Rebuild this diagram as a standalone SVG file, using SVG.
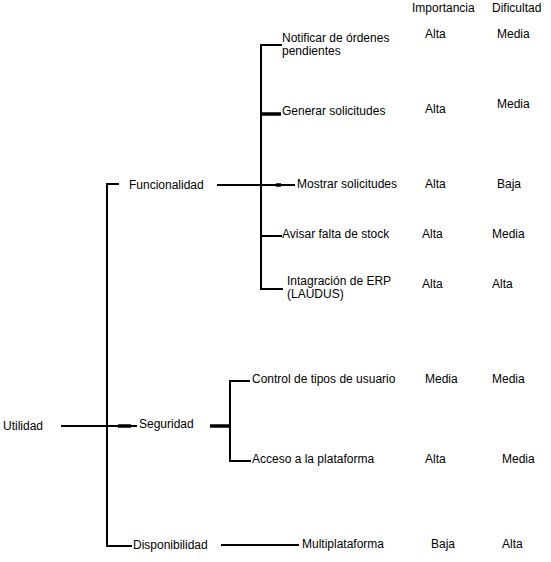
<svg xmlns="http://www.w3.org/2000/svg" width="551" height="562" viewBox="0 0 551 562">
<style>
text{font-family:"Liberation Sans",Arial,sans-serif;font-size:12px;fill:#000}
.c{stroke:#000;stroke-width:2;fill:none}
.t{stroke:#000;stroke-width:3.5;fill:none}
</style>
<rect width="551" height="562" fill="#fff"/>
<g id="connectors">
<path class="c" d="M61 426H137"/>
<path class="t" d="M118 426H131"/>
<path class="c" d="M119 184H107V546H132"/>
<path class="c" d="M217 185H295"/>
<path class="t" d="M276 185H281"/>
<path class="c" d="M282 45H261V289H283"/>
<path class="c" d="M261 236H282"/>
<path class="t" d="M261 114H281"/>
<path class="t" d="M210 426H230"/>
<path class="c" d="M250 381H230V461H251"/>
<path class="c" d="M221 545H299"/>
</g>
<g id="headers">
<text x="412" y="12">Importancia</text>
<text x="492" y="12">Dificultad</text>
</g>
<g id="utilidad"><text x="3" y="430">Utilidad</text></g>
<g id="funcionalidad"><text x="129" y="189">Funcionalidad</text></g>
<g id="seguridad"><text x="139" y="428">Seguridad</text></g>
<g id="disponibilidad"><text x="133" y="549">Disponibilidad</text></g>
<g id="notificar"><text x="282" y="42">Notificar de órdenes</text><text x="282" y="55">pendientes</text><text x="425" y="38">Alta</text><text x="497" y="38">Media</text></g>
<g id="generar"><text x="282" y="115">Generar solicitudes</text><text x="425" y="113">Alta</text><text x="497" y="108">Media</text></g>
<g id="mostrar"><text x="297" y="188">Mostrar solicitudes</text><text x="425" y="188">Alta</text><text x="497" y="188">Baja</text></g>
<g id="avisar"><text x="282" y="238">Avisar falta de stock</text><text x="422" y="238">Alta</text><text x="492" y="238">Media</text></g>
<g id="integracion"><text x="287" y="285">Intagración de ERP</text><text x="287" y="298">(LAUDUS)</text><text x="422" y="288">Alta</text><text x="492" y="288">Alta</text></g>
<g id="control"><text x="252" y="383">Control de tipos de usuario</text><text x="425" y="383">Media</text><text x="492" y="383">Media</text></g>
<g id="acceso"><text x="252" y="463">Acceso a la plataforma</text><text x="425" y="463">Alta</text><text x="502" y="463">Media</text></g>
<g id="multiplataforma"><text x="302" y="548">Multiplataforma</text><text x="431" y="548">Baja</text><text x="502" y="548">Alta</text></g>
</svg>
